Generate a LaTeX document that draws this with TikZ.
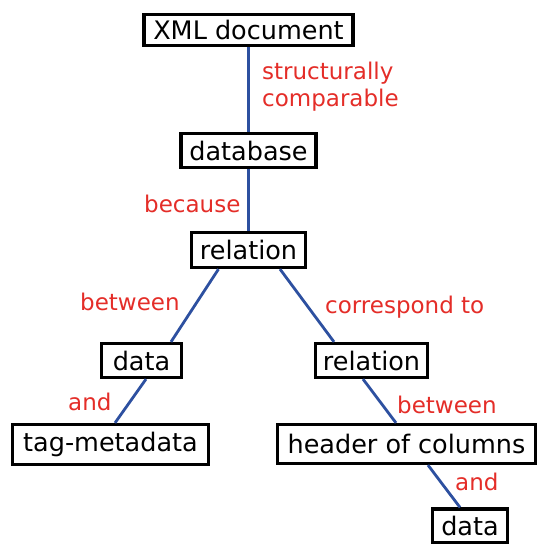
\documentclass[tikz,border=0pt]{standalone}
\usepackage{fontspec}
\setmainfont{DejaVu Sans}
\usetikzlibrary{calc}
\definecolor{edgeblue}{RGB}{45,80,160}
\definecolor{labred}{RGB}{228,45,40}
\tikzset{
  box/.style={draw=black, line width=3.2pt, inner sep=0pt, fill=white, font=\fontsize{25.5}{28}\selectfont, text=black, anchor=center},
  conn/.style={draw=edgeblue, line width=2.8pt},
  lab/.style={text=labred, font=\fontsize{23}{27}\selectfont, inner sep=0pt}
}
\begin{document}
\begin{tikzpicture}[x=1pt,y=-1pt]
\useasboundingbox (0,0) rectangle (538,544);
\node[box, minimum width=209pt, minimum height=31pt] (xml) at (248.5,30) {XML document};
\node[box, minimum width=135pt, minimum height=34pt] (db) at (248.5,150.5) {database};
\node[box, minimum width=114pt, minimum height=35pt] (rel) at (248.5,250) {relation};
\node[box, minimum width=80pt, minimum height=34pt] (dl) at (141.5,360.5) {data};
\node[box, minimum width=196pt, minimum height=40pt] (tag) at (110.5,444.5) {tag-metadata};
\node[box, minimum width=112pt, minimum height=34pt] (rr) at (371.5,360.5) {relation};
\node[box, minimum width=258pt, minimum height=39pt] (hdr) at (406.5,444) {header of columns};
\node[box, minimum width=75pt, minimum height=34pt] (db2) at (470,526) {data};
\draw[conn] (xml.south) -- (db.north);
\draw[conn] (db.south) -- (rel.north);
\draw[conn] ($(rel.south)+(-30,0)$) -- ($(dl.north)+(29.5,0)$);
\draw[conn] ($(rel.south)+(31.5,0)$) -- ($(rr.north)+(-37.5,0)$);
\draw[conn] ($(dl.south)+(4.5,0)$) -- ($(tag.north)+(4.5,0)$);
\draw[conn] ($(rr.south)+(-8.5,0)$) -- ($(hdr.north)+(-10.5,0)$);
\draw[conn] ($(hdr.south)+(21.5,0)$) -- ($(db2.north)+(-10,0)$);
% labels
\node[lab, anchor=west, align=left] (l1) at (262,86.5) {structurally\\comparable};
\node[lab, anchor=west] (l2) at (144,204) {because};
\node[lab, anchor=west] (l3) at (80,302) {between};
\node[lab, anchor=west] (l4) at (325,307) {correspond to};
\node[lab, anchor=west] (l5) at (68,402) {and};
\node[lab, anchor=west] (l6) at (397,405) {between};
\node[lab, anchor=west] (l7) at (455,482) {and};
\end{tikzpicture}
\end{document}
